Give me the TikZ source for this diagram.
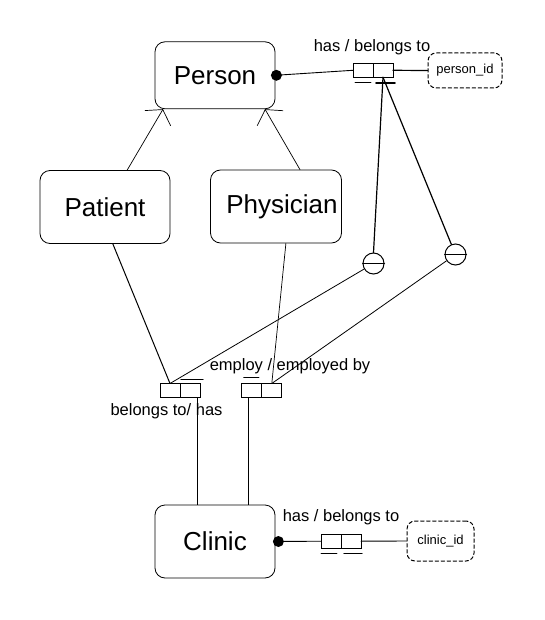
\documentclass[tikz,border=0pt]{standalone}
\usepackage{fontspec}
\setmainfont{Liberation Sans}
\usetikzlibrary{arrows.meta,positioning}
\begin{document}
\begin{tikzpicture}[x=1pt,y=-1pt,line cap=round,
  entity/.style={draw,rounded corners=10pt,line width=0.8pt,inner sep=0pt,font=\fontsize{26}{30}\selectfont},
  attr/.style={draw,rounded corners=8pt,line width=1pt,dash pattern=on 3.5pt off 2.5pt,inner sep=0pt,font=\fontsize{13}{15}\selectfont},
  keyhalf/.style={draw,line width=1pt,minimum width=20pt,minimum height=14pt,inner sep=0pt,outer sep=0pt},
  optc/.style={draw,circle,line width=1pt,minimum size=21pt,inner sep=0pt},
  lbl/.style={inner sep=0pt,font=\fontsize{16.5}{19}\selectfont},
  isa/.style={-{Straight Barb[length=10pt,width=30pt,line width=0.7pt]},line width=0.7pt}]
  \useasboundingbox (0,0) rectangle (544,620);

  % entities
  \node[entity,minimum width=120pt,minimum height=67pt] (person) at (215,75.3) {Person};
  \node[entity,minimum width=130pt,minimum height=73pt] (patient) at (105,207) {Patient};
  \node[entity,minimum width=131pt,minimum height=73pt] (physician) at (276,206.5) {\hspace*{12pt}Physician};
  \node[entity,minimum width=120pt,minimum height=73pt] (clinic) at (215,541.5) {Clinic};

  % key attributes
  \node[attr,minimum width=74pt,minimum height=35pt] (personid) at (465,70.5) {person\_id};
  \node[attr,minimum width=67pt,minimum height=40pt] (clinicid) at (440.5,541) {clinic\_id};

  % key boxes, two halves each
  \foreach \kname/\kx/\ky in {ka/363/70.3, kb/170/390.5, kc/251.8/390.5, kd/331/541.2} {
    \node[keyhalf] (\kname l) at (\kx,\ky) {};
    \node[keyhalf,right=0pt of \kname l] (\kname r) {};
  }

  % optional circles
  \node[optc] (opta) at (373.5,263.5) {};
  \node[optc] (optb) at (455.5,254.5) {};
  \foreach \c in {opta,optb}
    \draw[line width=1pt] (\c.west) -- (\c.east); % bar through the middle

  % inheritance
  \draw[isa] (patient.59) -- ([xshift=-52pt]person.south);
  \draw[isa] (physician.57) -- ([xshift=50pt]person.south);

  % person -- person_id
  \fill ([xshift=1pt]person.east) circle (5.5pt);
  \draw[line width=0.9pt] (person.east) -- (kal.west);
  \draw[line width=1.2pt] (kar.east) -- (personid.west);
  \draw[line width=0.8pt] ([yshift=-5pt]kal.south west) ++(2pt,0) -- ++(16pt,0); % thin bar
  \draw[line width=1.6pt] ([yshift=-6pt]kar.south west) ++(3pt,0) -- ++(19pt,0); % thick bar
  \draw[line width=1.2pt] (kar.south) -- (opta.north);
  \draw[line width=1.2pt] (kar.south) -- (optb);

  % patient -- clinic
  \draw[line width=1pt] (patient.-78) -- (kbl.north);
  \draw[line width=0.8pt] (opta) -- (kbl.north);
  \draw[line width=1.2pt] ([yshift=4pt]kbr.north west) ++(1pt,0) -- ++(22pt,0);
  \draw[line width=0.7pt] ([xshift=7pt]kbr.south) -- ([xshift=7pt]kbr.south |- clinic.north);
  \node[lbl] (lbelongs) at (166.5,411) {belongs to/ has};

  % physician -- clinic
  \draw[line width=0.7pt] (physician.-75) -- (kcr.north);
  \draw[line width=0.8pt] (optb) -- (kcr.north);
  \draw[line width=1.2pt] ([yshift=6pt]kcl.north west) ++(2pt,0) -- ++(15pt,0);
  \draw[line width=0.7pt] ([xshift=-3pt]kcl.south) -- ([xshift=-3pt]kcl.south |- clinic.north);
  \node[lbl] (lemploy) at (290,366) {employ / employed by};

  % clinic -- clinic_id
  \fill ([xshift=3pt]clinic.east) circle (5.5pt);
  \draw[line width=0.9pt] (clinic.east) -- (kdl.west);
  \draw[line width=0.9pt] (kdr.east) -- (clinicid.west);
  \draw[line width=0.8pt] ([yshift=-5pt]kdl.south west) ++(0pt,0) -- ++(16pt,0);
  \draw[line width=1.2pt] ([yshift=-5pt]kdr.south west) ++(3pt,0) -- ++(18pt,0);

  % relationship labels
  \node[lbl] (lpersonrel) at (372,47) {has / belongs to};
  \node[lbl] (lclinicrel) at (341,517) {has / belongs to};
\end{tikzpicture}
\end{document}
